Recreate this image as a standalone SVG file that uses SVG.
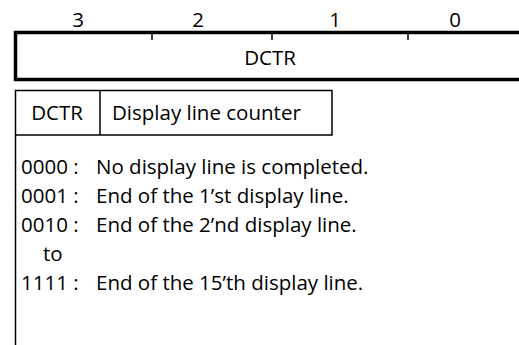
<svg xmlns="http://www.w3.org/2000/svg" width="519" height="345" viewBox="0 0 519 345">
<style>
text{font-family:"Open Sans","Noto Sans","DejaVu Sans",sans-serif;font-size:20.5px;fill:#000}
.thick{stroke:#000;stroke-width:3.5;fill:none}
.thin{stroke:#000;stroke-width:1.5;fill:none}
.tick{stroke:#000;stroke-width:1.5}
</style>
<rect width="519" height="345" fill="#fff"/>
<g id="register">
<text x="78" y="27" text-anchor="middle">3</text>
<text x="198" y="27" text-anchor="middle">2</text>
<text x="335" y="27" text-anchor="middle">1</text>
<text x="455" y="27" text-anchor="middle">0</text>
<path class="thick" d="M525 32.5 H15.5 V79.5 H525"/>
<line class="tick" x1="152" y1="32" x2="152" y2="40"/>
<line class="tick" x1="272" y1="32" x2="272" y2="40"/>
<line class="tick" x1="408" y1="32" x2="408" y2="40"/>
<text x="270" y="65" text-anchor="middle">DCTR</text>
</g>
<g id="table">
<path class="thin" d="M15.5 345 V90.5 H332 V135 H15.5"/>
<line class="thin" x1="100" y1="90.5" x2="100" y2="135"/>
<text x="57" y="120" text-anchor="middle">DCTR</text>
<text x="112" y="120">Display line counter</text>
</g>
<g id="values">
<text x="21" y="174">0000 :</text><text x="96" y="174">No display line is completed.</text>
<text x="21" y="203">0001 :</text><text x="96" y="203">End of the 1’st display line.</text>
<text x="21" y="232">0010 :</text><text x="96" y="232">End of the 2’nd display line.</text>
<text x="43" y="261">to</text>
<text x="21" y="290">1111 :</text><text x="96" y="290">End of the 15’th display line.</text>
</g>
</svg>
